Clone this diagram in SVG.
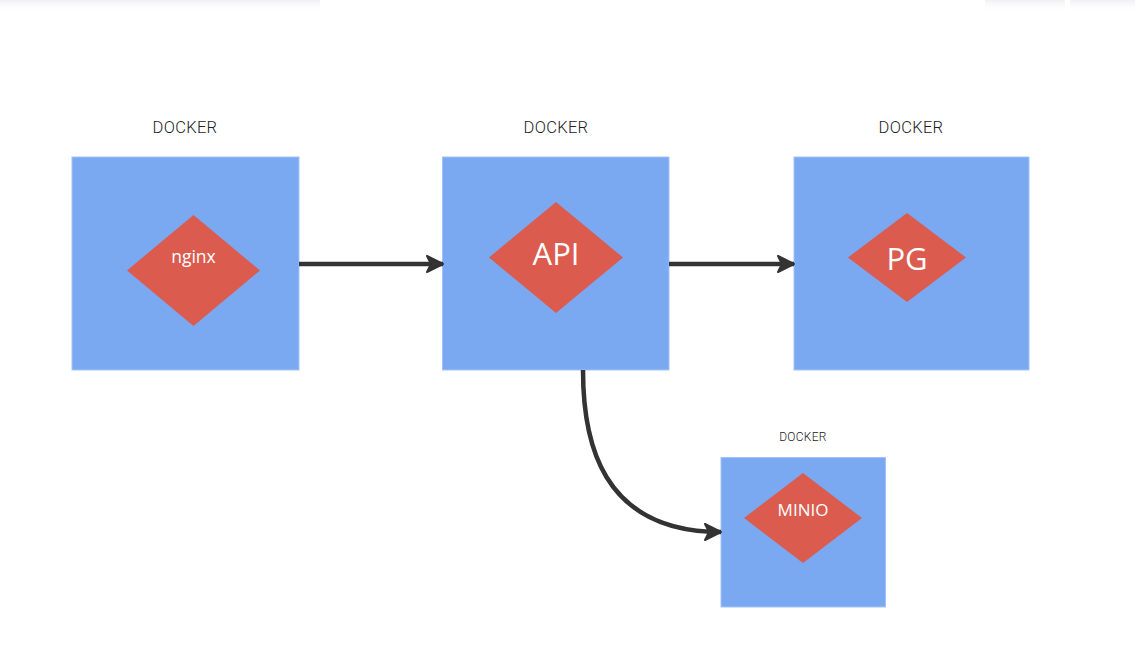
<svg xmlns="http://www.w3.org/2000/svg" width="1135" height="667" viewBox="0 0 1135 667">
<style>
.box{fill:#7aa9f1;stroke:#a3c4f6;stroke-width:1}
.dia{fill:#db5b4f}
.lbl{font-family:Roboto,"Liberation Sans",sans-serif;font-weight:300;fill:#222;text-anchor:middle;letter-spacing:0.3px}
.in{font-family:"Open Sans","Noto Sans",sans-serif;fill:#fff;text-anchor:middle}
.con{fill:none;stroke:#333;stroke-width:4.5}
</style>
<defs>
<marker id="ah" markerUnits="userSpaceOnUse" markerWidth="20" markerHeight="20" viewBox="0 0 20 20" refX="18" refY="10" orient="auto">
<path d="M2,2 L18,10 L2,18 L6,10 z" fill="#333" stroke="#333" stroke-width="2" stroke-linejoin="round"/>
</marker>
<linearGradient id="sh" x1="0" y1="0" x2="0" y2="1">
<stop offset="0" stop-color="#ebebf0" stop-opacity="0.7"/>
<stop offset="1" stop-color="#ffffff" stop-opacity="0"/>
</linearGradient>
</defs>
<rect x="0" y="0" width="1135" height="667" fill="#fff"/>
<rect x="0" y="0" width="320" height="12" fill="url(#sh)"/>
<rect x="985" y="0" width="80" height="12" fill="url(#sh)"/>
<rect x="1070" y="0" width="65" height="12" fill="url(#sh)"/>
<g id="nginx">
<text class="lbl" x="185" y="133" font-size="16.5">DOCKER</text>
<rect class="box" x="72" y="157" width="227" height="213"/>
<polygon class="dia" points="193.5,215 260,270.5 193.5,326 127,270.5"/>
<text class="in" x="193.5" y="263" font-size="17.5">nginx</text>
</g>
<g id="api">
<text class="lbl" x="556" y="133" font-size="16.5">DOCKER</text>
<rect class="box" x="442.5" y="157" width="226.5" height="213"/>
<polygon class="dia" points="556,202 623,257.5 556,313 489,257.5"/>
<text class="in" x="556" y="265" font-size="31">API</text>
</g>
<g id="pg">
<text class="lbl" x="911" y="133" font-size="16.5">DOCKER</text>
<rect class="box" x="794" y="157" width="235" height="213"/>
<polygon class="dia" points="907,213 966,257.5 907,302 848,257.5"/>
<text class="in" x="907" y="270" font-size="31">PG</text>
</g>
<g id="minio">
<text class="lbl" x="803" y="441" font-size="12">DOCKER</text>
<rect class="box" x="721" y="457.5" width="164.5" height="149.5"/>
<polygon class="dia" points="803,473 862,518 803,563 744,518"/>
<text class="in" x="803" y="516" font-size="17">MINIO</text>
</g>
<g id="connectors">
<path class="con" d="M299,264 L443,264" marker-end="url(#ah)"/>
<path class="con" d="M669,264 L794,264" marker-end="url(#ah)"/>
<path class="con" d="M583,370 C583,440 600,532 721,532" marker-end="url(#ah)"/>
</g>
</svg>
